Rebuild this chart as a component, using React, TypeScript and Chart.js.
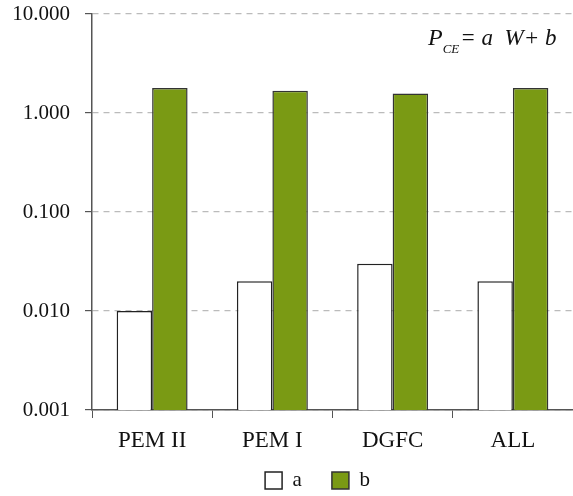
import React, { useEffect, useRef } from "react";
import { Chart, registerables } from "chart.js";

Chart.register(...registerables);

const categories = ["PEM II", "PEM I", "DGFC", "ALL"];
const seriesA = [0.01, 0.02, 0.03, 0.02];
const seriesB = [1.79, 1.68, 1.57, 1.79];
const yTicks = [0.001, 0.01, 0.1, 1, 10];

const FONT = "'Liberation Serif', 'Times New Roman', serif";

const annotationPlugin = {
  id: "formula",
  afterLayout(chart: any) {
    const l = chart.legend;
    if (l) {
      l.left += 31;
      l.right += 31;
      l.top -= 15;
      l.bottom -= 15;
    }
  },
  afterDraw(chart: any) {
    const ctx = chart.ctx;
    ctx.save();
    ctx.fillStyle = "#111";
    ctx.textBaseline = "alphabetic";
    let x = 428;
    const y = 45;
    ctx.font = `italic 24px ${FONT}`;
    ctx.fillText("P", x, y);
    x += ctx.measureText("P").width;
    ctx.font = `italic 13px ${FONT}`;
    ctx.fillText("CE", x, y + 8);
    x += ctx.measureText("CE").width + 1;
    ctx.font = `italic 23px ${FONT}`;
    ctx.fillText("= a  W+ b", x, y);
    ctx.restore();
  },
};

export default function App() {
  const ref = useRef<HTMLCanvasElement>(null);
  useEffect(() => {
    document.body.style.margin = "0";
    const chart = new Chart(ref.current!, {
      type: "bar",
      data: {
        labels: categories,
        datasets: [
          {
            label: "a",
            data: seriesA,
            backgroundColor: "#ffffff",
            borderColor: "#222222",
            borderWidth: 1.5,
          },
          {
            label: "b",
            data: seriesB,
            backgroundColor: "#7a9a14",
            borderColor: "#333333",
            borderWidth: 1.5,
          },
        ],
      },
      options: {
        animation: false,
        responsive: true,
        maintainAspectRatio: false,
        layout: { padding: { top: 14, right: 0, left: 0, bottom: -20 } },
        datasets: { bar: { categoryPercentage: 0.59, barPercentage: 1.0 } },
        plugins: {
          tooltip: { enabled: false },
          legend: {
            position: "bottom",
            labels: {
              boxWidth: 17,
              boxHeight: 17,
              padding: 30,
              color: "#111",
              font: { family: FONT, size: 21 },
            },
          },
        },
        scales: {
          x: {
            grid: {
              display: true,
              drawOnChartArea: false,
              drawTicks: true,
              tickLength: 8,
              tickColor: "#555",
              offset: true,
            },
            border: { display: true, color: "#555", width: 1.5 },
            ticks: {
              color: "#111",
              font: { family: FONT, size: 23 },
              padding: 9,
            },
            afterFit(scale: any) {
              scale.height = 45;
              scale.paddingLeft = 0;
              scale.paddingRight = 0;
            },
          },
          y: {
            type: "logarithmic",
            min: 0.001,
            max: 10,
            afterBuildTicks(scale: any) {
              scale.ticks = yTicks.map((v) => ({ value: v }));
            },
            afterFit(scale: any) {
              scale.width = 92;
              scale.paddingTop = 0;
              scale.paddingBottom = 0;
            },
            grid: {
              color: "#bbbbbb",
              lineWidth: 1.2,
              tickLength: 7,
              tickColor: "#555",
              tickBorderDash: [],
            },
            border: { display: true, color: "#555", width: 1.5, dash: [6, 5] },
            ticks: {
              color: "#111",
              font: { family: FONT, size: 21 },
              padding: 15,
              callback: (v: any) => Number(v).toFixed(3),
            },
          },
        },
      },
      plugins: [annotationPlugin],
    } as any);
    return () => chart.destroy();
  }, []);
  return (
    <div style={{ width: 573, height: 496, position: "relative" }}>
      <canvas ref={ref} />
    </div>
  );
}
